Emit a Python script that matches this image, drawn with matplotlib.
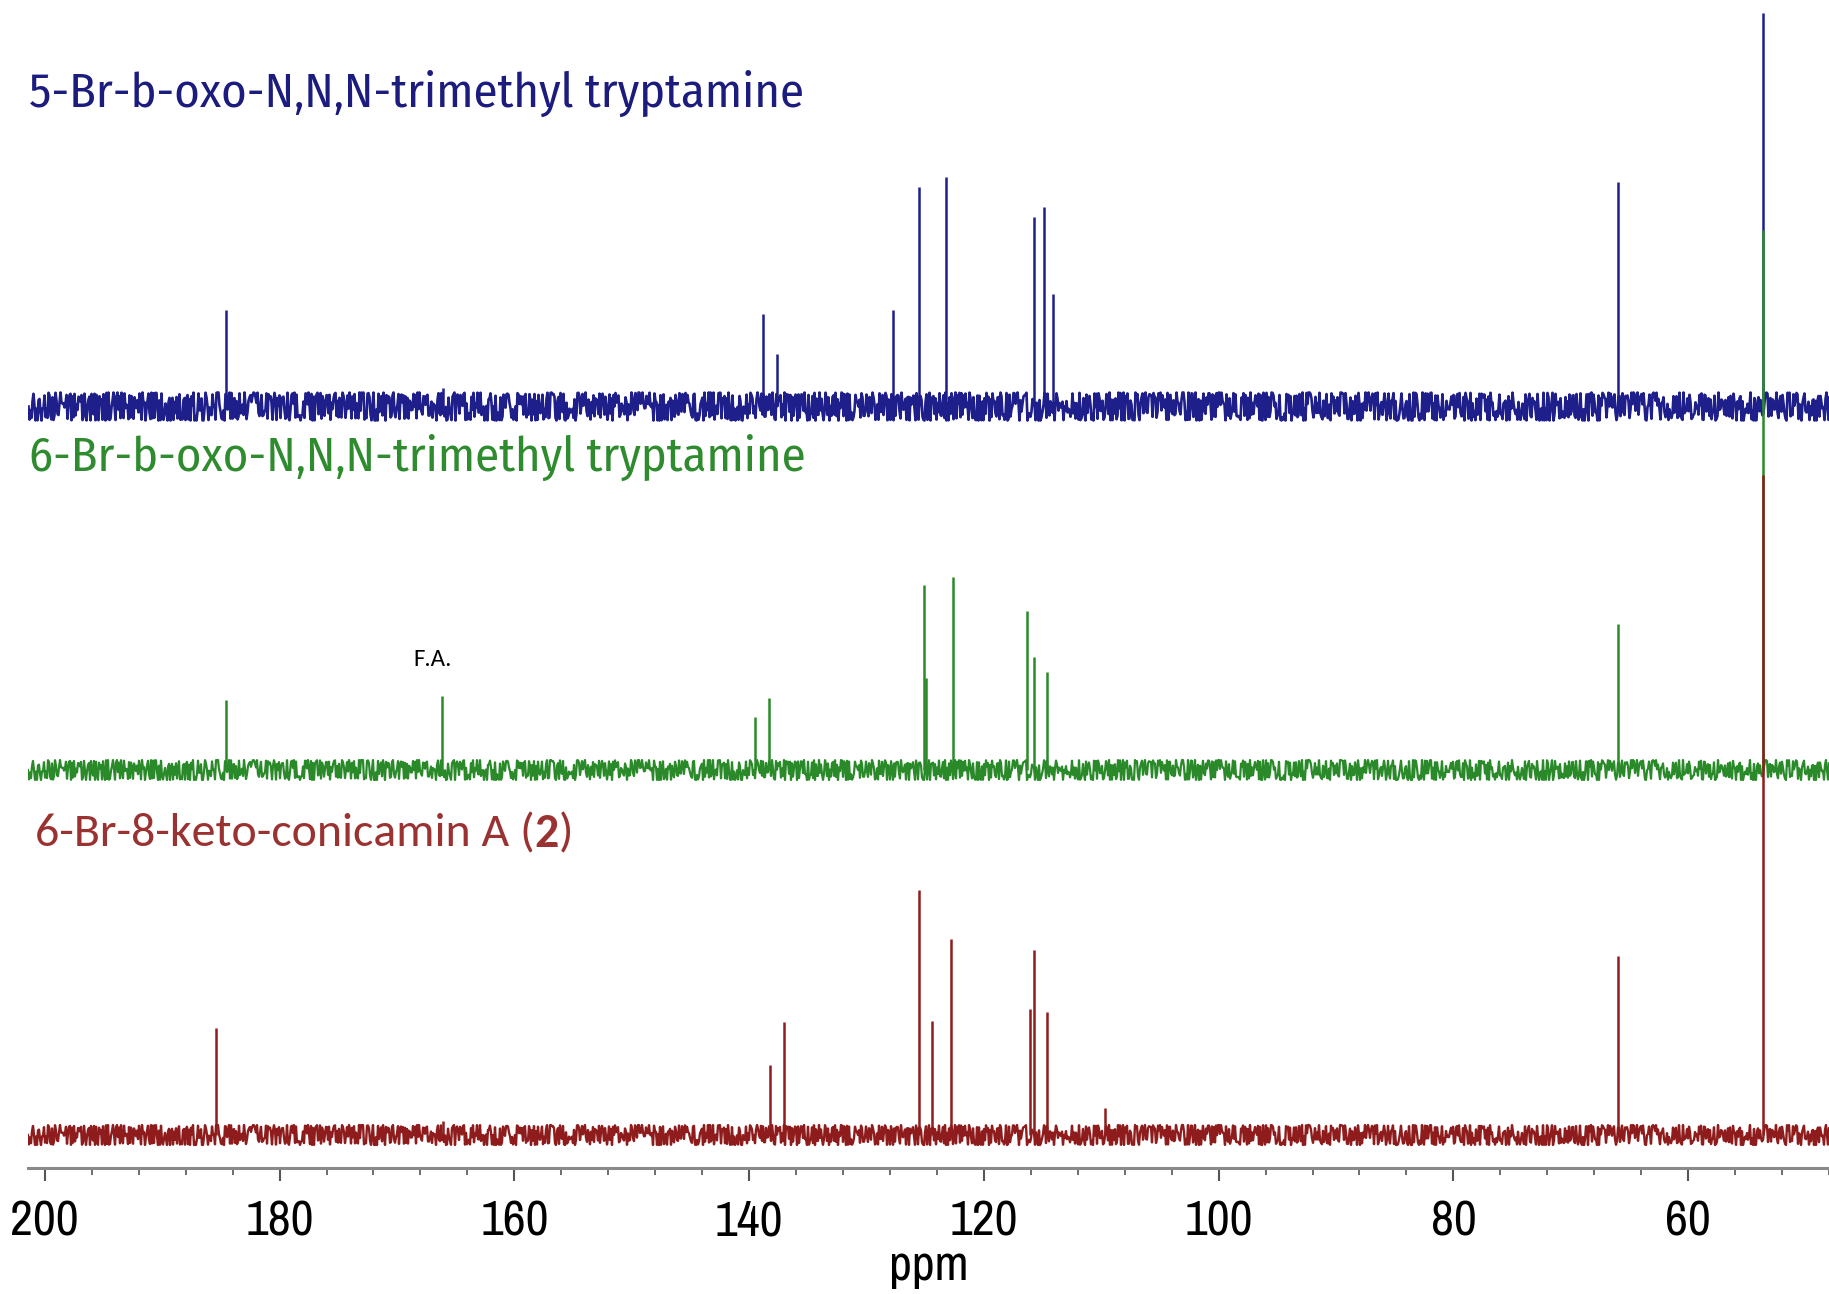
import matplotlib
matplotlib.use("Agg")
import matplotlib.pyplot as plt
from matplotlib.ticker import MultipleLocator

# Peak positions (ppm) and heights (arbitrary units)
blue_ppm = [184.6, 166.1, 138.8, 137.6, 127.7, 125.5, 123.2, 115.7, 114.9, 114.1, 66.0, 53.6]
blue_int = [96, 18, 92, 52, 96, 219, 229, 189, 199, 112, 224, 393]

green_ppm = [184.6, 166.2, 139.5, 138.3, 125.1, 124.9, 122.6, 116.3, 115.7, 114.6, 66.0, 53.6]
green_int = [70, 74, 53, 72, 185, 92, 193, 159, 113, 98, 146, 540]

red_ppm = [185.4, 166.1, 138.2, 137.0, 125.5, 124.4, 122.8, 116.1, 115.7, 114.6, 109.7, 66.0, 53.6]
red_int = [107, 14, 70, 113, 245, 114, 196, 126, 185, 123, 27, 179, 660]

names = ["5-Br-b-oxo-N,N,N-trimethyl tryptamine",
         "6-Br-b-oxo-N,N,N-trimethyl tryptamine",
         "6-Br-8-keto-conicamin A ("]
fa_label = "F.A."

# Figure size in pixels
W, H = 1829, 1294

tick_font = ["Archivo Narrow", "DejaVu Sans"]
title_font = ["Fira Sans Condensed", "Roboto", "DejaVu Sans"]
red_font = ["Carlito", "Lato", "DejaVu Sans"]

fig = plt.figure(figsize=(W / 100, H / 100), dpi=100)
ax_bottom_px = 1168
ax = fig.add_axes([28 / W, (H - ax_bottom_px) / H, (W - 28) / W, ax_bottom_px / H])
ax.set_xlim(201.43, 48)
ax.set_ylim(0, ax_bottom_px)

# stacked spectra: (ppm, intensity, baseline, noise half-height, line width, colour)
spectra = [
    (blue_ppm, blue_int, 762, 14, 1.9, "#1f1f8c"),
    (green_ppm, green_int, 398, 10, 1.6, "#2a8a2a"),
    (red_ppm, red_int, 33, 10, 1.7, "#8e1c1c"),
]

for ppm, inten, base, noise, lw, col in spectra:
    # noise band drawn as a sketched baseline
    bl = ax.axhline(base, color=col, lw=lw)
    bl.set_sketch_params(scale=noise, length=1.3, randomness=4.0)
    ax.vlines(ppm, base, [base + v for v in inten], color=col, lw=1.8)

# axis styling
for s in ["left", "right", "top"]:
    ax.spines[s].set_visible(False)
ax.spines["bottom"].set_color("#8a8a8a")
ax.spines["bottom"].set_linewidth(2.2)
ax.set_yticks([])
ax.xaxis.set_major_locator(MultipleLocator(20))
ax.xaxis.set_minor_locator(MultipleLocator(4))
ax.tick_params(axis="x", which="major", length=9, width=1.5, color="#555555",
               labelsize=36, pad=14)
ax.tick_params(axis="x", which="minor", length=5, width=1.2, color="#555555")
for lab in ax.get_xticklabels():
    lab.set_fontfamily(tick_font)
ax.set_xlabel("ppm", fontsize=36, fontfamily=tick_font, labelpad=-1)

# spectrum names
fig.text(29 / W, 1 - 93 / H, names[0], color="#1c1c7e", fontsize=35,
         fontfamily=title_font, va="center", ha="left")
fig.text(29 / W, 1 - 457 / H, names[1], color="#2e8b2e", fontsize=35,
         fontfamily=title_font, va="center", ha="left")
t1 = fig.text(35 / W, 1 - 834 / H, names[2], color="#9b3232", fontsize=34.5,
              fontfamily=red_font, va="center", ha="left")
t2 = ax.annotate("2", xy=(1, 0), xycoords=t1, va="bottom", ha="left",
                 color="#9b3232", fontsize=34.5, fontfamily=red_font, fontweight="bold")
ax.annotate(")", xy=(1, 0), xycoords=t2, va="bottom", ha="left",
            color="#9b3232", fontsize=34.5, fontfamily=red_font)

fig.text(433 / W, 1 - 659 / H, fa_label, color="black", fontsize=18,
         fontfamily=red_font, va="center", ha="center")

fig.savefig("out.png", dpi=100)
